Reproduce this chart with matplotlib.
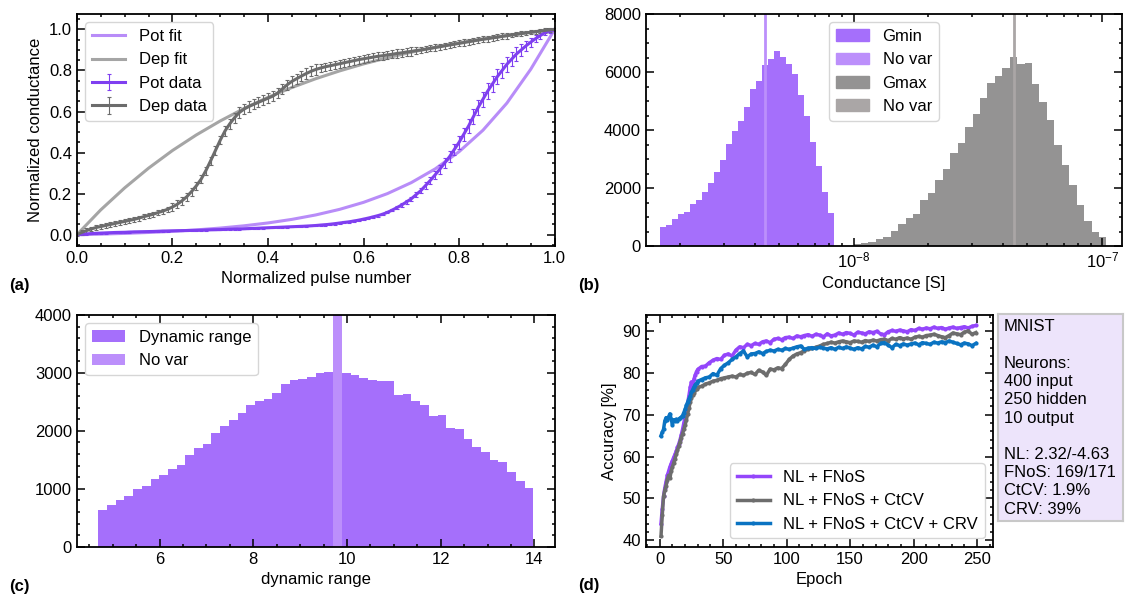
import numpy as np
import matplotlib
matplotlib.use('Agg')
import matplotlib.pyplot as plt
from matplotlib.ticker import AutoMinorLocator
from matplotlib.patches import Patch

plt.rcParams.update({'font.size': 12,
                     'font.family': ['Liberation Sans', 'DejaVu Sans'],
                     'mathtext.fontset': 'custom',
                     'mathtext.rm': 'Liberation Sans',
                     'mathtext.it': 'Liberation Sans:italic',
                     'mathtext.bf': 'Liberation Sans:bold',
                     'axes.linewidth': 1.3})

# (a) potentiation / depression curves
pulse = np.linspace(0, 1, 101)
pot_data = [0, .002, .004, .0055, .007, .008, .009, .010, .011, .0115,
            .012, .013, .014, .0145, .015, .0155, .016, .017, .018, .0185,
            .019, .0195, .020, .0205, .021, .0215, .022, .023, .024, .0245,
            .025, .026, .027, .0275, .028, .029, .030, .031, .032, .033,
            .034, .035, .036, .037, .038, .039, .040, .041, .042, .0435,
            .045, .047, .049, .051, .054, .057, .060, .063, .067, .071,
            .076, .081, .087, .093, .100, .109, .120, .132, .145, .160,
            .175, .195, .215, .240, .265, .292, .320, .350, .380, .415,
            .450, .490, .530, .575, .620, .660, .700, .735, .770, .800,
            .830, .855, .880, .900, .920, .938, .955, .970, .985, .993,
            1.0]
pot_err = [.003] * 51 + [.005] * 16 + [.007, .008, .009, .01, .012, .014, .016, .018, .02, .022,
                                        .024, .026, .028, .03, .032, .034, .035, .036, .037, .038,
                                        .038, .038, .037, .036, .034, .032, .029, .026, .022, .018,
                                        .015, .012, .009, .006]
dep_data = [0, .011, .020, .028, .035, .040, .045, .050, .055, .060,
            .065, .070, .075, .081, .088, .094, .100, .108, .115, .124,
            .135, .148, .165, .185, .210, .238, .270, .312, .360, .410,
            .460, .505, .540, .570, .595, .612, .625, .635, .645, .655,
            .665, .675, .690, .710, .730, .747, .760, .773, .785, .796,
            .805, .812, .818, .823, .828, .833, .838, .843, .848, .853,
            .857, .861, .865, .869, .872, .876, .879, .883, .886, .890,
            .893, .897, .900, .904, .908, .912, .916, .920, .924, .928,
            .932, .936, .940, .944, .948, .952, .955, .959, .962, .966,
            .969, .973, .976, .980, .983, .986, .989, .992, .995, .998,
            1.0]
dep_err = [.005] + [.012] * 19 + [.02] * 11 + [.025] * 20 + [.02] * 20 + [.015] * 20 + [.01] * 9 + [.005]

fit_x = np.linspace(0, 1, 21)
pot_fit = [0, .003, .0065, .011, .0166, .0236, .0325, .0435, .0574, .0747, .0964,
           .1236, .1577, .2003, .2538, .3206, .4045, .509, .641, .806, 1.0]
dep_fit = [0, .121, .228, .324, .410, .486, .554, .615, .669, .717, .760,
           .798, .832, .862, .889, .913, .935, .954, .971, .986, 1.0]

# (b) conductance histograms (log bins)
gmin_counts = [660, 730, 920, 1110, 1180, 1455, 1590, 1870, 2180, 2560,
               2980, 3530, 3950, 4300, 4780, 5400, 5680, 6240, 6440, 6720,
               6510, 6270, 5920, 5200, 4500, 3570, 2770, 1850, 1130]
gmin_edges = np.logspace(-8.779, -8.779 + 29 * 0.0241, 30)
gmax_counts = [60, 90, 140, 230, 325, 520, 750, 960, 1100, 1600,
               1830, 2260, 2640, 3220, 3540, 4090, 4560, 5100, 5620, 5880,
               6140, 6520, 6260, 6320, 5600, 4950, 4350, 3480, 2800, 2110,
               1420, 870, 470, 320]
gmax_edges = np.logspace(-8.0, -8.0 + 34 * 0.0299, 35)
gmin_novar = 4.41e-9
gmax_novar = 4.43e-8

# (c) dynamic range histogram
dr_counts = [640, 727, 814, 877, 1004, 1056, 1160, 1229, 1333, 1403,
             1576, 1697, 1766, 1957, 2078, 2182, 2303, 2442, 2511, 2545,
             2649, 2805, 2874, 2892, 2926, 2996, 3013, 3020, 2996, 2961,
             2909, 2874, 2857, 2857, 2615, 2632, 2511, 2442, 2251, 2268,
             2043, 2026, 1853, 1714, 1628, 1489, 1455, 1289, 1134, 1007]
dr_edges = np.linspace(4.694, 13.974, 51)
dr_novar = 9.8
dr_novar_count = 100000

# (d) accuracy vs epoch
epochs = np.concatenate([np.arange(1, 31), np.arange(33, 250, 3)])
acc_nl = [44.0, 47.5, 50.5, 52.5, 54.0, 55.5, 56.5, 57.5, 58.3, 59.0,
          59.8, 60.5, 61.3, 62.2, 63.0, 64.0, 65.2, 66.5, 68.0, 69.6,
          71.2, 72.8, 74.5, 76.5, 77.8, 77.2, 78.5, 79.5, 80.3, 80.8,
          81.5, 81.6, 82.4, 83.0, 83.4, 83.2, 84.2, 84.5, 84.0, 85.4,
          86.2, 86.0, 86.8, 86.5, 87.0, 86.8, 87.4, 87.6, 87.2, 88.0,
          88.2, 87.9, 88.4, 88.5, 88.2, 88.8, 88.6, 88.9, 89.1, 88.7,
          89.2, 89.0, 88.6, 89.3, 88.8, 89.0, 89.5, 89.2, 89.6, 89.4,
          89.0, 89.7, 89.5, 89.3, 89.8, 89.6, 89.9, 89.3, 89.1, 89.8,
          90.1, 89.9, 90.2, 90.0, 89.8, 90.3, 90.1, 90.6, 90.4, 90.7,
          90.5, 90.9, 90.6, 90.8, 90.4, 90.7, 90.9, 90.6, 90.8, 91.0,
          90.7, 91.1, 91.3]
acc_ctcv = [41.0, 46.0, 50.5, 52.0, 53.0, 54.5, 55.5, 54.8, 56.5, 57.5,
            58.5, 59.5, 60.5, 61.5, 62.5, 63.5, 64.5, 65.5, 66.5, 67.5,
            68.8, 70.2, 71.5, 73.0, 74.0, 74.8, 75.2, 75.8, 76.2, 76.5,
            76.8, 77.3, 77.6, 78.0, 78.2, 78.6, 78.8, 79.0, 79.2, 79.0,
            79.6, 79.4, 79.9, 80.1, 79.6, 80.6, 80.2, 79.4, 80.9, 80.7,
            81.2, 81.0, 82.0, 83.2, 84.0, 84.5, 84.8, 85.3, 85.6, 85.8,
            86.1, 86.4, 86.8, 87.0, 87.3, 87.1, 87.4, 87.6, 87.4, 87.2,
            87.6, 87.5, 87.3, 87.7, 87.5, 87.8, 87.6, 87.9, 88.0, 87.7,
            88.2, 88.0, 88.4, 88.1, 88.3, 88.0, 88.5, 88.7, 88.5, 88.9,
            89.0, 89.2, 88.9, 88.6, 88.4, 88.9, 89.5, 89.3, 89.1, 89.7,
            90.0, 89.2, 89.6]
acc_crv = [65.0, 65.8, 66.5, 68.5, 69.3, 68.8, 69.5, 70.2, 69.0, 67.6,
           68.8, 68.5, 68.9, 68.6, 69.0, 69.2, 69.4, 69.8, 70.5, 71.3,
           72.2, 73.0, 73.8, 74.4, 75.3, 76.0, 76.6, 77.2, 77.5, 78.0,
           78.4, 78.8, 79.0, 79.8, 79.4, 81.0, 81.8, 82.4, 83.2, 83.8,
           84.6, 85.2, 83.8, 84.5, 84.6, 85.0, 84.6, 85.1, 85.4, 85.2,
           85.6, 85.4, 85.8, 85.6, 85.9, 86.2, 86.4, 85.6, 85.9, 86.0,
           85.8, 86.1, 85.9, 85.7, 86.0, 85.6, 86.1, 85.8, 86.2, 85.9,
           85.6, 86.0, 85.7, 86.3, 86.1, 86.6, 86.2, 87.0, 87.2, 86.6,
           86.0, 86.8, 86.5, 86.9, 86.6, 86.9, 87.1, 86.7, 87.2, 87.0,
           86.8, 87.3, 87.1, 87.4, 87.2, 87.6, 87.3, 87.0, 86.7, 87.1,
           86.9, 86.5, 87.0]

info = ("MNIST\n\nNeurons:\n400 input\n250 hidden\n10 output\n\n"
        "NL: 2.32/-4.63\nFNoS: 169/171\nCtCV: 1.9%\nCRV: 39%")

purple = '#a56ffb'
purple_nv = '#bc8ffb'


def style(ax, minor_x=True):
    if minor_x:
        ax.xaxis.set_minor_locator(AutoMinorLocator())
    ax.yaxis.set_minor_locator(AutoMinorLocator())
    ax.tick_params(which='both', direction='in', top=True, right=True, width=1.1)
    ax.tick_params(which='major', length=5.5)
    ax.tick_params(which='minor', length=2.5)


fig = plt.figure(figsize=(11.25, 5.97), dpi=100)
ax_a = fig.add_axes([0.0683, 0.5879, 0.4247, 0.3886])
ax_b = fig.add_axes([0.574, 0.5879, 0.4233, 0.3886])
ax_c = fig.add_axes([0.0683, 0.0843, 0.4247, 0.3881])
ax_d = fig.add_axes([0.574, 0.0843, 0.3086, 0.3881])

# (a)
ax_a.plot(fit_x, pot_fit, color='#b88cf8', lw=2.2, label='Pot fit')
ax_a.plot(fit_x, dep_fit, color='#a5a5a5', lw=2.2, label='Dep fit')
ax_a.errorbar(pulse, pot_data, yerr=pot_err, color='#7f3ff0', lw=2.2,
              elinewidth=0.8, capsize=1.3, capthick=0.8, label='Pot data')
ax_a.errorbar(pulse, dep_data, yerr=dep_err, color='#6c6c6c', lw=2.2,
              elinewidth=0.8, capsize=1.3, capthick=0.8, label='Dep data')
ax_a.set_xlim(0, 1)
ax_a.set_ylim(-0.055, 1.075)
ax_a.set_xlabel('Normalized pulse number')
ax_a.set_ylabel('Normalized conductance')
ax_a.legend(loc='upper left')
style(ax_a)

# (b)
ax_b.stairs(gmin_counts, gmin_edges, fill=True, color=purple)
ax_b.axvline(gmin_novar, color=purple_nv, lw=2)
ax_b.stairs(gmax_counts, gmax_edges, fill=True, color='#949393')
ax_b.axvline(gmax_novar, color='#aaa6a6', lw=2)
ax_b.set_xscale('log')
ax_b.set_xlim(1.46e-9, 1.2e-7)
ax_b.set_ylim(0, 8000)
ax_b.set_xlabel('Conductance [S]')
ax_b.legend(handles=[Patch(color=purple, label='Gmin'),
                     Patch(color=purple_nv, label='No var'),
                     Patch(color='#949393', label='Gmax'),
                     Patch(color='#aaa6a6', label='No var')],
            loc='upper center')
style(ax_b, minor_x=False)

# (c)
ax_c.hist(dr_edges[:-1], bins=dr_edges, weights=dr_counts, color=purple, label='Dynamic range')
ax_c.hist([dr_novar], bins=dr_edges, weights=[dr_novar_count], color=purple_nv, label='No var')
ax_c.set_xlim(4.235, 14.43)
ax_c.set_ylim(0, 4000)
ax_c.set_xlabel('dynamic range')
ax_c.legend(loc='upper left')
style(ax_c)

# (d)
ax_d.plot(epochs, acc_nl, color='#9446fb', lw=2.5, marker='o', ms=2, label='NL + FNoS')
ax_d.plot(epochs, acc_ctcv, color='#6d6d6d', lw=2.5, marker='o', ms=2, label='NL + FNoS + CtCV')
ax_d.plot(epochs, acc_crv, color='#0a73c2', lw=2.5, marker='o', ms=2, label='NL + FNoS + CtCV + CRV')
ax_d.set_xlim(-11, 262.5)
ax_d.set_ylim(38.5, 93.8)
ax_d.set_xlabel('Epoch')
ax_d.set_ylabel('Accuracy [%]')
ax_d.legend(loc='lower right')
style(ax_d)

# info box
ax_box = fig.add_axes([0.887, 0.1278, 0.111, 0.346])
ax_box.set_facecolor('#ede4fb')
for s in ax_box.spines.values():
    s.set_edgecolor('#c8c8c8')
    s.set_linewidth(1.5)
ax_box.set_xticks([])
ax_box.set_yticks([])
ax_box.text(0.05, 0.975, info, transform=ax_box.transAxes, va='top', ha='left',
            linespacing=1.27)

for lbl, x, y in [('(a)', 0.0174, 0.5226), ('(b)', 0.5236, 0.5226),
                  ('(c)', 0.0174, 0.0184), ('(d)', 0.5236, 0.02)]:
    fig.text(x, y, lbl, weight='bold', ha='center', va='center')

fig.savefig('out.png', dpi=100)
